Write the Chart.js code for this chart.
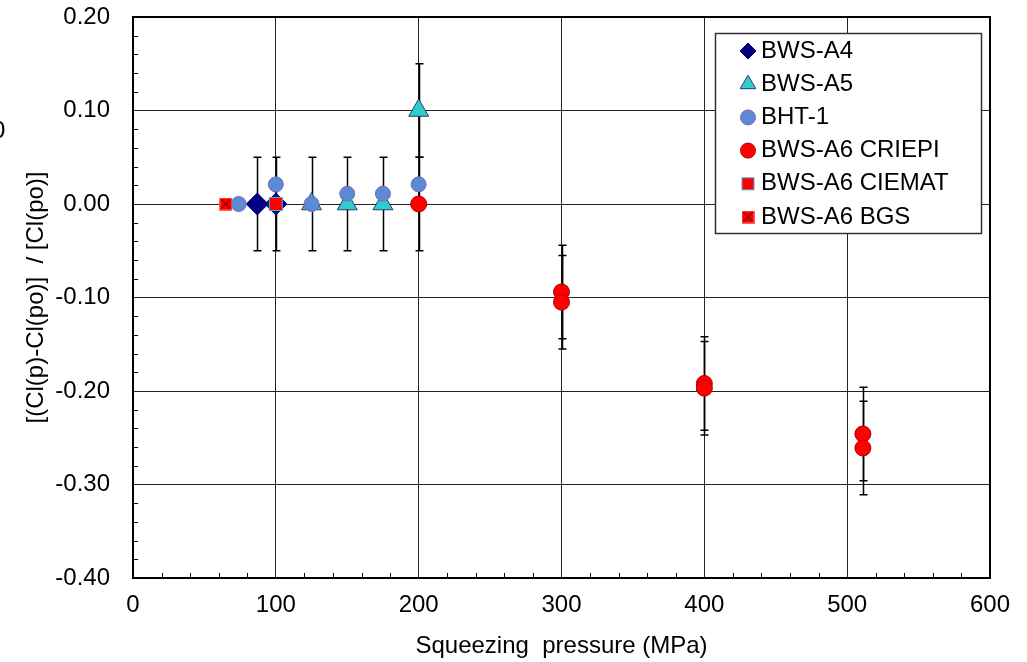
<!DOCTYPE html>
<html>
<head>
<meta charset="utf-8">
<script src="https://cdn.jsdelivr.net/npm/chart.js@4/dist/chart.umd.min.js"></script>
<style>
  html, body { margin: 0; padding: 0; background: #fff; }
  canvas { display: block; }
</style>
</head>
<body>
<canvas id="c" width="1027" height="662"></canvas>
<script>
// Normalised Cl change vs squeezing pressure
const xTicks = [0, 100, 200, 300, 400, 500, 600];
const yTicks = [-0.40, -0.30, -0.20, -0.10, 0.00, 0.10, 0.20];

const a4X = [87, 100];
const a4Y = [0, 0];
const a4Err = [0.05, 0.05];

const a5X = [125, 150, 175, 200];
const a5Y = [0, 0, 0, 0.10];
const a5Err = [0.05, 0.05, 0.05, 0.05];

const bhtX = [74, 100, 125, 150, 175, 200];
const bhtY = [0, 0.021, 0, 0.011, 0.011, 0.021];

const criepiX = [200, 300, 300, 400, 400, 511, 511];
const criepiY = [0, -0.094, -0.105, -0.192, -0.197, -0.246, -0.261];
const criepiErr = [0.05, 0.05, 0.05, 0.05, 0.05, 0.05, 0.05];

const ciematX = [100];
const ciematY = [0];

const bgsX = [65];
const bgsY = [0];

const pts = (xs, ys) => xs.map((x, i) => ({ x: x, y: ys[i] }));

// red square with a cross for the BGS marker
function bgsMarker(size) {
  const c = document.createElement("canvas");
  c.width = size; c.height = size;
  const g = c.getContext("2d");
  g.fillStyle = "#ff0000";
  g.fillRect(0, 0, size, size);
  g.strokeStyle = "#ff6060";
  g.lineWidth = 1;
  g.strokeRect(0.5, 0.5, size - 1, size - 1);
  g.strokeStyle = "#3a0000";
  g.beginPath();
  g.moveTo(2, 2); g.lineTo(size - 2, size - 2);
  g.moveTo(size - 2, 2); g.lineTo(2, size - 2);
  g.stroke();
  return c;
}
const bgsImg = bgsMarker(13);

const series = [
  { label: "BWS-A4", data: pts(a4X, a4Y), err: a4Err, pointStyle: "rectRot", pointRadius: 11,
    backgroundColor: "#000080", borderColor: "#000080", legendRadius: 8, order: 6 },
  { label: "BWS-A5", data: pts(a5X, a5Y), err: a5Err, pointStyle: "triangle", pointRadius: 11.5,
    backgroundColor: "#33cccc", borderColor: "#1f3f70", legendRadius: 9, order: 5 },
  { label: "BHT-1", data: pts(bhtX, bhtY), err: null, pointStyle: "circle", pointRadius: 7.5,
    backgroundColor: "#5b8bd7", borderColor: "#7a6aa8", legendRadius: 7.5, order: 4 },
  { label: "BWS-A6 CRIEPI", data: pts(criepiX, criepiY), err: criepiErr, pointStyle: "circle", pointRadius: 8,
    backgroundColor: "#ff0000", borderColor: "#b00000", legendRadius: 7.5, order: 3 },
  { label: "BWS-A6 CIEMAT", data: pts(ciematX, ciematY), err: null, pointStyle: "rect", pointRadius: 9.2,
    backgroundColor: "#ff0000", borderColor: "#4bacc6", legendRadius: 8.5, order: 2 },
  { label: "BWS-A6 BGS", data: pts(bgsX, bgsY), err: null, pointStyle: bgsImg, pointRadius: 7,
    backgroundColor: "#ff0000", borderColor: "#ff0000", legendRadius: 7, order: 1 },
];

Chart.defaults.font.family = "Arial, 'Liberation Sans', sans-serif";
Chart.defaults.font.size = 24;
Chart.defaults.color = "#000";

const errorBars = {
  id: "errorBars",
  beforeDatasetsDraw(chart) {
    const { ctx, scales: { x, y } } = chart;
    ctx.save();
    ctx.strokeStyle = "#000";
    ctx.lineWidth = 1.5;
    chart.data.datasets.forEach((ds) => {
      if (!ds.err) return;
      ds.data.forEach((p, i) => {
        const e = ds.err[i];
        const px = Math.round(x.getPixelForValue(p.x)) + 0.5;
        const top = y.getPixelForValue(p.y + e);
        const bot = y.getPixelForValue(p.y - e);
        ctx.beginPath();
        ctx.moveTo(px, top); ctx.lineTo(px, bot);
        ctx.moveTo(px - 4, top); ctx.lineTo(px + 4, top);
        ctx.moveTo(px - 4, bot); ctx.lineTo(px + 4, bot);
        ctx.stroke();
      });
    });
    ctx.restore();
  },
};

// frame and inward minor ticks
const frame = {
  id: "frame",
  beforeDatasetsDraw(chart) {
    const { ctx, chartArea: a, scales: { x, y } } = chart;
    ctx.save();
    ctx.strokeStyle = "#000";
    ctx.lineWidth = 1;
    ctx.beginPath();
    for (let v = 20; v < 600; v += 20) {
      if (v % 100 === 0) continue;
      const px = Math.round(x.getPixelForValue(v)) + 0.5;
      ctx.moveTo(px, a.bottom); ctx.lineTo(px, a.bottom - 5);
    }
    for (let k = -19; k < 10; k++) {
      if (k % 5 === 0) continue;
      const py = Math.round(y.getPixelForValue(k * 0.02)) + 0.5;
      ctx.moveTo(a.left, py); ctx.lineTo(a.left + 5, py);
    }
    ctx.stroke();
    ctx.lineWidth = 2;
    ctx.strokeRect(a.left, a.top, a.right - a.left, a.bottom - a.top);
    ctx.restore();
  },
  afterDraw(chart) {
    const ctx = chart.ctx;
    ctx.save();
    ctx.font = "24px Arial, 'Liberation Sans', sans-serif";
    ctx.fillStyle = "#000";
    ctx.textBaseline = "middle";
    ctx.fillText("0", -8, 131);
    ctx.restore();
  },
};

const boxLegend = {
  id: "boxLegend",
  afterDraw(chart) {
    const ctx = chart.ctx;
    const left = 715, top = 33, w = 266, h = 200;
    ctx.save();
    ctx.fillStyle = "#fff";
    ctx.fillRect(left, top, w, h);
    ctx.strokeStyle = "#333";
    ctx.lineWidth = 1.5;
    ctx.strokeRect(left + 0.5, top + 0.5, w, h);
    ctx.font = "24px Arial, 'Liberation Sans', sans-serif";
    ctx.textBaseline = "middle";
    const drawPoint = Chart.helpers && Chart.helpers.drawPoint;
    chart.data.datasets.forEach((ds, i) => {
      const cy = 51 + i * 33.2;
      ctx.fillStyle = ds.backgroundColor;
      ctx.strokeStyle = ds.borderColor;
      ctx.lineWidth = 1;
      if (drawPoint) {
        drawPoint(ctx, { pointStyle: ds.pointStyle, radius: ds.legendRadius, rotation: 0, borderWidth: 1 }, 748, cy);
      } else {
        ctx.beginPath(); ctx.arc(748, cy, ds.legendRadius, 0, Math.PI * 2); ctx.fill(); ctx.stroke();
      }
      ctx.fillStyle = "#000";
      ctx.fillText(ds.label, 761, cy);
    });
    ctx.restore();
  },
};

new Chart(document.getElementById("c"), {
  type: "scatter",
  data: {
    datasets: series.map((s) => ({
      label: s.label,
      data: s.data,
      err: s.err,
      pointStyle: s.pointStyle,
      pointRadius: s.pointRadius,
      pointHoverRadius: s.pointRadius,
      backgroundColor: s.backgroundColor,
      borderColor: s.borderColor,
      borderWidth: 1,
      legendRadius: s.legendRadius,
      order: s.order,
      showLine: false,
    })),
  },
  options: {
    responsive: false,
    animation: false,
    devicePixelRatio: 1,
    layout: { padding: { top: 17, right: 37, bottom: 0, left: 0 } },
    plugins: { legend: { display: false }, tooltip: { enabled: false } },
    scales: {
      x: {
        type: "linear",
        min: xTicks[0],
        max: xTicks[xTicks.length - 1],
        afterBuildTicks: (s) => { s.ticks = xTicks.map((v) => ({ value: v })); },
        afterFit: (s) => { s.height = 84; s.paddingLeft = 0; s.paddingRight = 0; },
        ticks: { padding: 13, callback: (v) => String(v) },
        grid: { color: "#222", lineWidth: 1, drawTicks: false },
        border: { display: false },
        title: { display: true, text: "Squeezing  pressure (MPa)", padding: { top: 0, bottom: 1 } },
      },
      y: {
        type: "linear",
        min: yTicks[0],
        max: yTicks[yTicks.length - 1],
        afterBuildTicks: (s) => { s.ticks = yTicks.map((v) => ({ value: v })); },
        afterFit: (s) => { s.width = 133; s.paddingTop = 0; s.paddingBottom = 0; },
        ticks: { padding: 23, callback: (v) => (Math.abs(v) < 1e-9 ? "0.00" : v.toFixed(2)) },
        grid: { color: "#222", lineWidth: 1, drawTicks: false },
        border: { display: false },
        title: { display: true, text: "[(Cl(p)-Cl(po)]  / [Cl(po)]", padding: { top: 22, bottom: 0 } },
      },
    },
  },
  plugins: [errorBars, frame, boxLegend],
});
</script>
</body>
</html>
